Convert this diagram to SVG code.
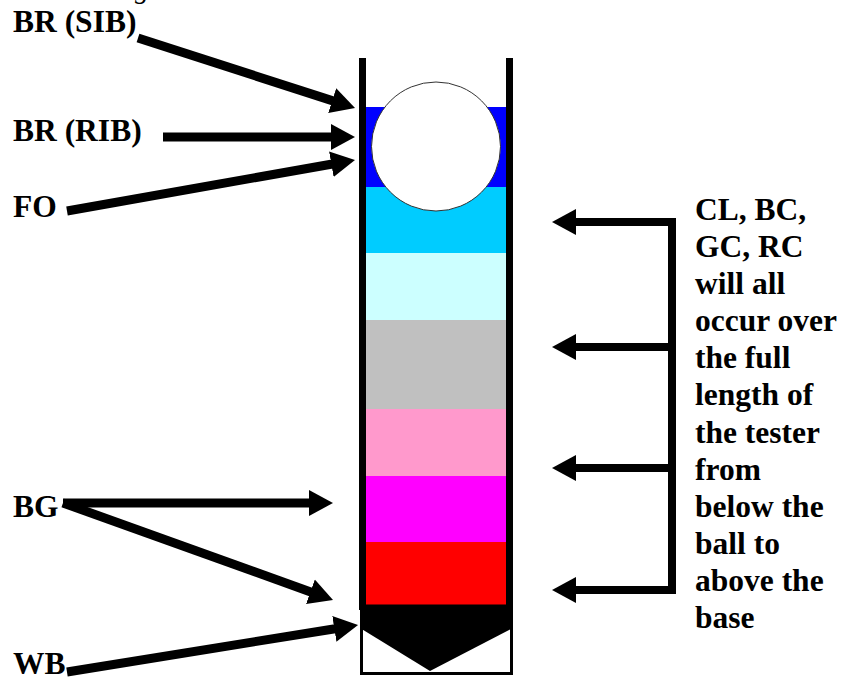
<svg xmlns="http://www.w3.org/2000/svg" width="844" height="677" viewBox="0 0 844 677">
  <style>
    .lbl { font-family: "Liberation Serif", "Times New Roman", serif; font-weight: bold; font-size: 31.5px; fill: #000; }
    .cap { font-family: "Liberation Serif", "Times New Roman", serif; font-style: italic; font-size: 28px; fill: #000; }
    .arw { stroke: #000; stroke-width: 9; fill: none; marker-end: url(#head); }
    .brk { stroke: #000; stroke-width: 8; fill: none; }
  </style>
  <defs>
    <marker id="head" markerUnits="userSpaceOnUse" markerWidth="26" markerHeight="28" refX="4" refY="14" orient="auto">
      <path d="M0,1 L24,14 L0,27 z" fill="#000"/>
    </marker>
  </defs>
  <rect width="844" height="677" fill="#fff"/>

  <!-- fragment of caption text above the frame -->
  <text class="cap" x="135" y="-2">g</text>

  <!-- tester tube with coloured layers -->
  <g id="tester">
    <rect x="366" y="107" width="140" height="80" fill="#0000FF"/>
    <rect x="366" y="187" width="140" height="66" fill="#00CCFF"/>
    <rect x="366" y="253" width="140" height="67" fill="#CCFFFF"/>
    <rect x="366" y="320" width="140" height="89" fill="#C0C0C0"/>
    <rect x="366" y="409" width="140" height="67" fill="#FF99CC"/>
    <rect x="366" y="476" width="140" height="66" fill="#FF00FF"/>
    <rect x="366" y="542" width="140" height="66" fill="#FF0000"/>
    <rect x="359" y="58" width="7" height="552" fill="#000"/>
    <rect x="506" y="58" width="7" height="552" fill="#000"/>
  </g>

  <g id="ball">
    <circle cx="436" cy="146.5" r="64.5" fill="#fff" stroke="#333" stroke-width="1"/>
  </g>

  <g id="base">
    <rect x="361.5" y="606" width="150" height="67.5" fill="#fff" stroke="#000" stroke-width="3"/>
    <polygon points="360,607 513,607 513,628 430,671 360,628" fill="#000"/>
  </g>

  <!-- labels -->
  <g id="label-br-sib"><text class="lbl" x="13" y="32">BR (SIB)</text></g>
  <g id="label-br-rib"><text class="lbl" x="13" y="141">BR (RIB)</text></g>
  <g id="label-fo"><text class="lbl" x="13" y="217">FO</text></g>
  <g id="label-bg"><text class="lbl" x="13" y="517">BG</text></g>
  <g id="label-wb"><text class="lbl" x="13" y="674">WB</text></g>
  <g id="note">
    <text class="lbl" x="695">
      <tspan x="695" y="220">CL, BC,</tspan>
      <tspan x="695" y="257">GC, RC</tspan>
      <tspan x="695" y="294">will all</tspan>
      <tspan x="695" y="331">occur over</tspan>
      <tspan x="695" y="368">the full</tspan>
      <tspan x="695" y="405">length of</tspan>
      <tspan x="695" y="443">the tester</tspan>
      <tspan x="695" y="480">from</tspan>
      <tspan x="695" y="517">below the</tspan>
      <tspan x="695" y="554">ball to</tspan>
      <tspan x="695" y="591">above the</tspan>
      <tspan x="695" y="628">base</tspan>
    </text>
  </g>

  <!-- connectors -->
  <g id="connectors">
    <line class="arw" x1="138" y1="38" x2="336" y2="101.9"/>
    <line class="arw" x1="163" y1="137" x2="335" y2="137"/>
    <line class="arw" x1="67" y1="211" x2="335.3" y2="163.5"/>
    <line class="arw" x1="63" y1="503" x2="313" y2="503"/>
    <line class="arw" x1="63" y1="503" x2="314.2" y2="593.2"/>
    <line class="arw" x1="67" y1="672" x2="338.3" y2="628.2"/>
    <path class="brk" d="M672,218 V594"/>
    <line class="arw" style="stroke-width:8" x1="676" y1="222" x2="572" y2="222"/>
    <line class="arw" style="stroke-width:8" x1="672" y1="347" x2="572" y2="347"/>
    <line class="arw" style="stroke-width:8" x1="672" y1="468" x2="572" y2="468"/>
    <line class="arw" style="stroke-width:8" x1="676" y1="590" x2="572" y2="590"/>
  </g>
</svg>
